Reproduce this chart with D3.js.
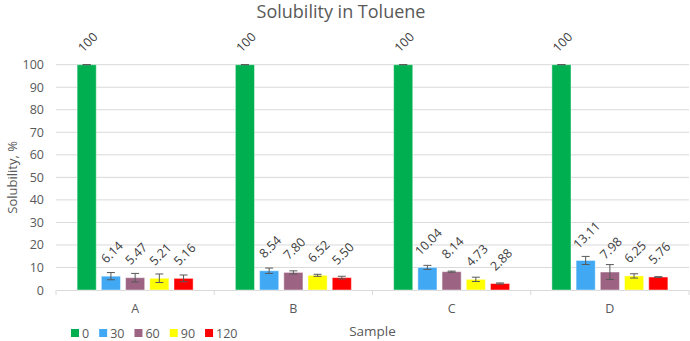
<!DOCTYPE html>
<html>
<head>
<meta charset="utf-8">
<script src="https://cdn.jsdelivr.net/npm/d3@7"></script>
<style>
  html, body { margin: 0; padding: 0; background: #fff; }
  svg { display: block; font-family: "Open Sans", sans-serif; }
</style>
</head>
<body>
<svg id="chart" width="690" height="341"></svg>
<script>
const categories = ["A", "B", "C", "D"];
const seriesNames = ["0", "30", "60", "90", "120"];
const seriesColors = ["#00B050", "#41A9F4", "#9C6482", "#FFFF00", "#FF0000"];
const values = {
  "0":   [100, 100, 100, 100],
  "30":  [6.14, 8.54, 10.04, 13.11],
  "60":  [5.47, 7.80, 8.14, 7.98],
  "90":  [5.21, 6.52, 4.73, 6.25],
  "120": [5.16, 5.50, 2.88, 5.76]
};
const errors = {
  "0":   [0, 0, 0, 0],
  "30":  [1.6, 1.2, 0.9, 1.8],
  "60":  [1.9, 0.7, 0.25, 3.3],
  "90":  [1.9, 0.45, 0.95, 0.95],
  "120": [1.5, 0.6, 0.25, 0.15]
};
const labels = {
  "0":   ["100", "100", "100", "100"],
  "30":  ["6.14", "8.54", "10.04", "13.11"],
  "60":  ["5.47", "7.80", "8.14", "7.98"],
  "90":  ["5.21", "6.52", "4.73", "6.25"],
  "120": ["5.16", "5.50", "2.88", "5.76"]
};
const yTicks = [0, 10, 20, 30, 40, 50, 60, 70, 80, 90, 100];

const svg = d3.select("#chart");
const plotLeft = 56, plotRight = 689, plotTop = 64.7, plotBottom = 290;

const x0 = d3.scaleBand().domain(categories).range([plotLeft, plotRight]).padding(0);
const x1 = d3.scaleBand().domain(seriesNames).range([-58, 58]).paddingInner(0.21).paddingOuter(0);
const y = d3.scaleLinear().domain([0, 100]).range([plotBottom, plotTop]);

// gridlines
svg.append("g").selectAll("line").data(yTicks.filter(d => d > 0)).join("line")
  .attr("x1", plotLeft).attr("x2", plotRight)
  .attr("y1", d => y(d)).attr("y2", d => y(d))
  .attr("stroke", "#D9D9D9").attr("stroke-width", 1);

// y axis labels
const yAxis = d3.axisLeft(y).tickValues(yTicks).tickSize(0).tickPadding(0);
const yg = svg.append("g").attr("transform", `translate(${plotLeft - 12},0)`).call(yAxis);
yg.select(".domain").remove();
yg.selectAll("text").attr("fill", "#595959").style("font-size", "12.5px").style("font-family", "Open Sans");

// x axis
const xAxis = d3.axisBottom(x0).tickSize(0).tickPadding(0);
const xg = svg.append("g").attr("transform", `translate(0,${plotBottom})`).call(xAxis);
xg.select(".domain").attr("stroke", "#D9D9D9");
xg.selectAll("text").attr("fill", "#595959").attr("dy", "0").attr("y", 23)
  .style("font-size", "12.5px").style("font-family", "Open Sans");
// category separator ticks
const sepX = categories.map(c => x0(c)).concat([x0(categories[categories.length - 1]) + x0.bandwidth()]);
svg.append("g").selectAll("line").data(sepX).join("line")
  .attr("x1", d => d).attr("x2", d => d)
  .attr("y1", plotBottom).attr("y2", plotBottom + 5)
  .attr("stroke", "#D9D9D9");

// bars
const groups = svg.append("g").selectAll("g").data(categories).join("g")
  .attr("transform", c => `translate(${x0(c) + x0.bandwidth() / 2},0)`);

seriesNames.forEach((s, si) => {
  groups.append("rect")
    .attr("x", (c) => x1(s))
    .attr("width", x1.bandwidth())
    .attr("y", (c) => y(values[s][categories.indexOf(c)]))
    .attr("height", (c) => plotBottom - y(values[s][categories.indexOf(c)]))
    .attr("fill", seriesColors[si])
    .attr("stroke", "rgba(255,255,255,0.45)")
    .attr("stroke-width", 1);
});

// error bars
seriesNames.forEach((s) => {
  groups.each(function (c) {
    const i = categories.indexOf(c);
    const v = values[s][i], e = errors[s][i];
    const cx = x1(s) + x1.bandwidth() / 2;
    const g = d3.select(this);
    const y1 = y(v + e), y2 = y(v - e);
    g.append("line").attr("x1", cx).attr("x2", cx).attr("y1", y1).attr("y2", y2)
      .attr("stroke", "#595959").attr("stroke-width", 1);
    [y1, y2].forEach(yy => {
      g.append("line").attr("x1", cx - 4).attr("x2", cx + 4).attr("y1", yy).attr("y2", yy)
        .attr("stroke", "#595959").attr("stroke-width", 1);
    });
  });
});

// data labels
seriesNames.forEach((s) => {
  groups.each(function (c) {
    const i = categories.indexOf(c);
    const v = values[s][i];
    const t = labels[s][i];
    const cx = x1(s) + x1.bandwidth() / 2 + 1;
    const cy = y(v) - 24 - (t.length - 4) * 1.5;
    d3.select(this).append("text")
      .attr("transform", `translate(${cx},${cy}) rotate(-45)`)
      .attr("text-anchor", "middle")
      .attr("dominant-baseline", "central")
      .attr("fill", "#404040")
      .style("font-size", "12.5px")
      .text(t);
  });
});

// title
svg.append("text").attr("x", 341).attr("y", 18).attr("text-anchor", "middle")
  .attr("fill", "#595959").style("font-size", "18px").text("Solubility in Toluene");

// y axis title
svg.append("text").attr("transform", `translate(17,${(plotTop + plotBottom) / 2}) rotate(-90)`)
  .attr("text-anchor", "middle").attr("fill", "#595959").style("font-size", "13px")
  .text("Solubility, %");

// x axis title
svg.append("text").attr("x", (plotLeft + plotRight) / 2).attr("y", 336).attr("text-anchor", "middle")
  .attr("fill", "#595959").style("font-size", "13.5px").text("Sample");

// legend
const legend = svg.append("g").attr("transform", "translate(71,333)");
let lx = 0;
seriesNames.forEach((s, si) => {
  const g = legend.append("g").attr("transform", `translate(${lx},0)`);
  g.append("rect").attr("x", 0).attr("y", -4).attr("width", 8).attr("height", 8).attr("fill", seriesColors[si]);
  const t = g.append("text").attr("x", 11).attr("y", 0).attr("dominant-baseline", "central")
    .attr("fill", "#595959").style("font-size", "12.5px").text(s);
  lx += 11 + t.node().getComputedTextLength() + 10;
});
</script>
</body>
</html>
